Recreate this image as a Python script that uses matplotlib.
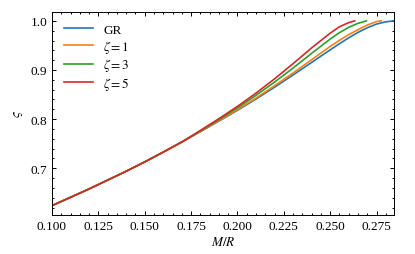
import numpy as np
import matplotlib
matplotlib.use("Agg")
import matplotlib.pyplot as plt
from matplotlib.ticker import MultipleLocator, FormatStrFormatter

plt.rcParams['font.family'] = ['Liberation Serif', 'DejaVu Serif']
plt.rcParams['mathtext.fontset'] = 'stix'
plt.rcParams['font.size'] = 9.5

# shared low-compactness branch (all curves overlap here)
mr_low = [0.100, 0.110, 0.120, 0.130, 0.140, 0.150, 0.160, 0.170]
vs_low = [0.624, 0.641, 0.658, 0.676, 0.694, 0.713, 0.733, 0.7535]

# GR
mr_gr = [0.180, 0.190, 0.200, 0.210, 0.220, 0.230, 0.240, 0.250, 0.255,
         0.260, 0.265, 0.270, 0.275, 0.280, 0.2842]
vs_gr = [0.7745, 0.796, 0.818, 0.841, 0.865, 0.890, 0.9155, 0.941, 0.9535,
         0.9655, 0.9765, 0.986, 0.9935, 0.998, 1.000]

# zeta = 1
mr_z1 = [0.180, 0.190, 0.200, 0.210, 0.220, 0.230, 0.240, 0.250, 0.255,
         0.260, 0.265, 0.270, 0.275, 0.2775]
vs_z1 = [0.775, 0.797, 0.8195, 0.843, 0.868, 0.894, 0.921, 0.948, 0.9605,
         0.972, 0.982, 0.9915, 0.9985, 1.000]

# zeta = 3
mr_z3 = [0.180, 0.190, 0.200, 0.210, 0.220, 0.230, 0.240, 0.250, 0.255,
         0.260, 0.265, 0.2695]
vs_z3 = [0.776, 0.799, 0.823, 0.8485, 0.8755, 0.904, 0.934, 0.963, 0.976,
         0.987, 0.995, 1.000]

# zeta = 5
mr_z5 = [0.180, 0.190, 0.200, 0.210, 0.220, 0.230, 0.240, 0.250, 0.255,
         0.260, 0.2632]
vs_z5 = [0.777, 0.801, 0.826, 0.853, 0.882, 0.913, 0.945, 0.975, 0.988,
         0.9965, 1.000]

series = [
    ('GR', mr_gr, vs_gr, '#1f77b4'),
    (r'$\zeta=1$', mr_z1, vs_z1, '#ff7f0e'),
    (r'$\zeta=3$', mr_z3, vs_z3, '#2ca02c'),
    (r'$\zeta=5$', mr_z5, vs_z5, '#d62728'),
]

fig = plt.figure(figsize=(4.15, 2.55), dpi=100)
ax = fig.add_axes([0.1253, 0.153, 0.8237, 0.796])

for label, mr, vs, color in series:
    ax.plot(mr_low + mr, vs_low + vs, color=color, lw=1.2, label=label)

ax.set_xlim(0.1, 0.2843)
ax.set_ylim(0.605, 1.018)
ax.xaxis.set_major_locator(MultipleLocator(0.025))
ax.xaxis.set_minor_locator(MultipleLocator(0.005))
ax.yaxis.set_major_locator(MultipleLocator(0.1))
ax.yaxis.set_minor_locator(MultipleLocator(0.02))
ax.xaxis.set_major_formatter(FormatStrFormatter('%.3f'))
ax.yaxis.set_major_formatter(FormatStrFormatter('%.1f'))
ax.tick_params(which='both', direction='in', top=True, right=True, width=0.7)
ax.tick_params(which='major', length=3)
ax.tick_params(which='minor', length=1.5)
for s in ax.spines.values():
    s.set_linewidth(0.7)

ax.set_xlabel(r'$M/R$', labelpad=2)
ax.set_ylabel(r'$\varsigma$', labelpad=4)
ax.legend(loc='upper left', frameon=False, handlelength=2.2,
          labelspacing=0.12, borderaxespad=0.5)

fig.savefig('out.png', dpi=100)
